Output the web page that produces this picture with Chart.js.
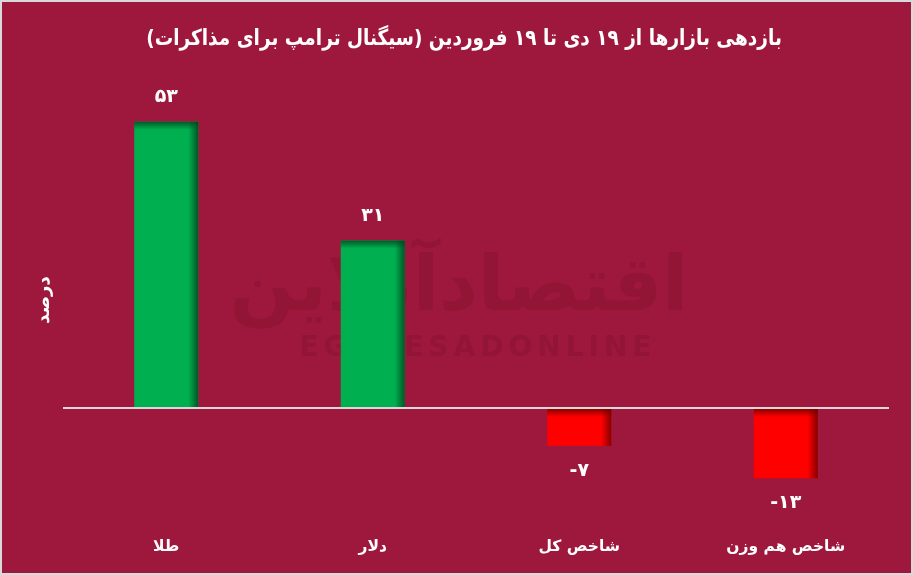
<!DOCTYPE html>
<html>
<head>
<meta charset="utf-8">
<script src="https://cdn.jsdelivr.net/npm/chart.js@4"></script>
<style>
  html, body { margin: 0; padding: 0; background: #d9d9d9; }
  #wrap { position: absolute; left: 2px; top: 2px; width: 909px; height: 571px; background: #9e173c; }
</style>
</head>
<body>
<div id="wrap"><canvas id="marketChart" width="909" height="571"></canvas></div>
<script>
var categories = ["طلا", "دلار", "شاخص کل", "شاخص هم وزن"];
var returns = [53, 31, -7, -13];
var valueLabels = ["۵۳", "۳۱", "-۷", "-۱۳"];
var titleText = "بازدهی بازارها از ۱۹ دی تا ۱۹ فروردین (سیگنال ترامپ برای مذاکرات)";
var axisTitle = "درصد";

var FONT = "'DejaVu Sans', sans-serif";

// chart title, a bit condensed like the original font
var headline = {
  id: 'headline',
  afterDraw: function(chart) {
    var c = chart.ctx;
    c.save();
    c.translate(462, 37);
    c.scale(0.84, 1);
    c.fillStyle = '#ffffff';
    c.font = "bold 22px " + FONT;
    c.textAlign = 'center';
    c.textBaseline = 'middle';
    c.fillText(titleText, 0, 0);
    c.restore();
  }
};

// faint site watermark behind the bars
var watermark = {
  id: 'watermark',
  beforeDatasetsDraw: function(chart) {
    var c = chart.ctx;
    c.save();
    c.fillStyle = '#931536';
    c.textAlign = 'center';
    c.textBaseline = 'middle';
    c.font = "bold 76px " + FONT;
    c.fillText("اقتصادآنلاین", 457, 288);
    c.font = "bold 28px " + FONT;
    c.letterSpacing = '5px';
    c.fillText("EGHTESADONLINE", 476, 347);
    c.restore();
  }
};

// shading on the top and right edges of bars + value labels
var barDecor = {
  id: 'barDecor',
  afterDatasetsDraw: function(chart) {
    var c = chart.ctx;
    var meta = chart.getDatasetMeta(0);
    meta.data.forEach(function(bar, i) {
      var v = returns[i];
      var left = bar.x - bar.width / 2, right = bar.x + bar.width / 2;
      var top = Math.min(bar.y, bar.base), bottom = Math.max(bar.y, bar.base);
      var dark = v >= 0 ? '0,70,30' : '110,0,0';
      c.save();
      var g = c.createLinearGradient(right - 10, 0, right, 0);
      g.addColorStop(0, 'rgba(' + dark + ',0)');
      g.addColorStop(1, 'rgba(' + dark + ',0.85)');
      c.fillStyle = g;
      c.fillRect(right - 10, top, 10, bottom - top);
      var g2 = c.createLinearGradient(0, top, 0, top + 8);
      g2.addColorStop(0, 'rgba(' + dark + ',0.8)');
      g2.addColorStop(1, 'rgba(' + dark + ',0)');
      c.fillStyle = g2;
      c.fillRect(left, top, right - left, 8);
      c.restore();

      c.save();
      c.fillStyle = '#ffffff';
      c.font = "bold 19px " + FONT;
      c.textAlign = 'center';
      c.textBaseline = 'middle';
      c.direction = 'ltr';
      var y = v >= 0 ? bar.y - 25 : bar.y + 25;
      c.fillText(valueLabels[i], bar.x, y);
      c.restore();
    });
  }
};

var ctx = document.getElementById('marketChart').getContext('2d');
var chart = new Chart(ctx, {
  type: 'bar',
  data: {
    labels: categories,
    datasets: [{
      data: returns,
      backgroundColor: returns.map(function(v) { return v >= 0 ? '#00b050' : '#ff0000'; }),
      borderWidth: 0,
      categoryPercentage: 1,
      barPercentage: 0.31
    }]
  },
  options: {
    responsive: false,
    animation: false,
    layout: { padding: { top: 82, right: 22, bottom: 0, left: 0 } },
    plugins: {
      legend: { display: false },
      tooltip: { enabled: false },
      title: { display: false }
    },
    scales: {
      x: {
        afterFit: function(scale) { scale.height = 57; },
        grid: { display: false },
        border: { display: false },
        ticks: {
          color: '#ffffff',
          font: { family: FONT, size: 15.5, weight: 'bold' },
          padding: 14
        }
      },
      y: {
        min: -20,
        max: 60,
        afterFit: function(scale) { scale.width = 61; },
        border: { display: false },
        grid: {
          color: function(c) { return c.tick && c.tick.value === 0 ? '#d9d9d9' : 'transparent'; },
          lineWidth: 2,
          drawTicks: false
        },
        ticks: { display: false, stepSize: 10 },
        title: {
          display: true,
          text: axisTitle,
          color: '#ffffff',
          font: { family: FONT, size: 18, weight: 'bold' },
          padding: { top: 32 }
        }
      }
    }
  },
  plugins: [watermark, barDecor, headline]
});
</script>
</body>
</html>
